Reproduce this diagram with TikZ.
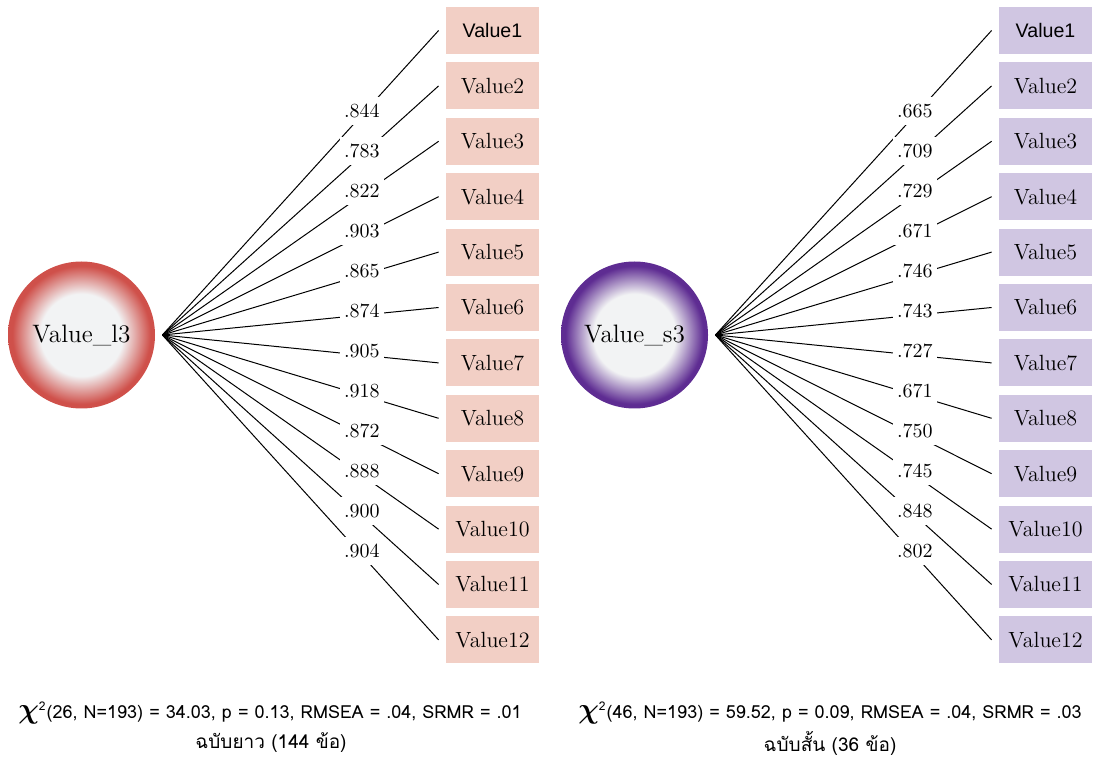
\documentclass[tikz,border=0pt]{standalone}
\usepackage{amsmath}
\usepackage{bm}
\usepackage{fontspec}
\newfontfamily\thaifont[Script=Thai]{Loma}
\newfontfamily\valuesans{Liberation Sans}
\usepackage{tikz}
\definecolor{longred}{RGB}{207,80,74}
\definecolor{shortpurple}{RGB}{94,44,146}
\definecolor{longbox}{RGB}{242,207,197}
\definecolor{shortbox}{RGB}{208,198,226}
\definecolor{ballwhite}{RGB}{242,243,244}
\pgfdeclareradialshading{redball}{\pgfpoint{0bp}{0bp}}{color(0bp)=(ballwhite); color(14bp)=(ballwhite); color(23.5bp)=(longred); color(25bp)=(longred); color(50bp)=(longred)}
\pgfdeclareradialshading{purpleball}{\pgfpoint{0bp}{0bp}}{color(0bp)=(ballwhite); color(14bp)=(ballwhite); color(23.5bp)=(shortpurple); color(25bp)=(shortpurple); color(50bp)=(shortpurple)}
\tikzset{
    factor/.style={circle, shade, minimum size=73.5pt, inner sep=0pt, font=\fontsize{12.6}{14}\selectfont},
    itembox/.style={rectangle, minimum width=46.5pt, minimum height=23.5pt, inner sep=0pt, font=\fontsize{11}{13}\selectfont},
    loadline/.style={line width=0.5pt},
    loading/.style={fill=white, inner sep=0pt, minimum width=22pt, minimum height=14pt, yshift=2pt, font=\fontsize{10}{12}\selectfont},
    fitnote/.style={inner sep=0pt, font=\fontsize{9}{11}\thaifont},
    formname/.style={inner sep=0pt, font=\fontsize{9.5}{11}\thaifont}
}
\newcommand{\firstsans}{\fontsize{9.8}{11}\valuesans}
\newcommand{\drawmodel}[5]{
    \node[factor, shading=#3] (#1) at (81.5+#2,335) {Value\_#1};
    \foreach \lv [count=\i] in {#5} {
        \node[itembox, fill=#4] (#1v\i) at (492.5+#2,30.5+55.4*\i-55.4) {\ifnum\i=1 \firstsans\fi Value\i};
        \draw[loadline] ([xshift=3.5pt]#1.east) -- ([xshift=-3.5pt]#1v\i.west) node[loading, pos=0.722] {\lv};
    }
}
\begin{document}
\begin{tikzpicture}[x=0.5pt, y=-0.5pt]
    \useasboundingbox (0,0) rectangle (1101,758);
    \drawmodel{l3}{0}{redball}{longbox}{.844,.783,.822,.903,.865,.874,.905,.918,.872,.888,.900,.904}
    \drawmodel{s3}{553}{purpleball}{shortbox}{.665,.709,.729,.671,.746,.743,.727,.671,.750,.745,.848,.802}
    % fit indices
    \node[fitnote] (l3fit) at (270,713) {{\Large$\boldsymbol{\chi}$}\textsuperscript{2}(26, N=193) = 34.03, p = 0.13, RMSEA = .04, SRMR = .01};
    \node[formname] (l3name) at (271,743) {ฉบับยาว (144 ข้อ)};
    \node[fitnote] (s3fit) at (830,713) {{\Large$\boldsymbol{\chi}$}\textsuperscript{2}(46, N=193) = 59.52, p = 0.09, RMSEA = .04, SRMR = .03};
    \node[formname] (s3name) at (830,743) {ฉบับสั้น (36 ข้อ)};
\end{tikzpicture}
\end{document}
